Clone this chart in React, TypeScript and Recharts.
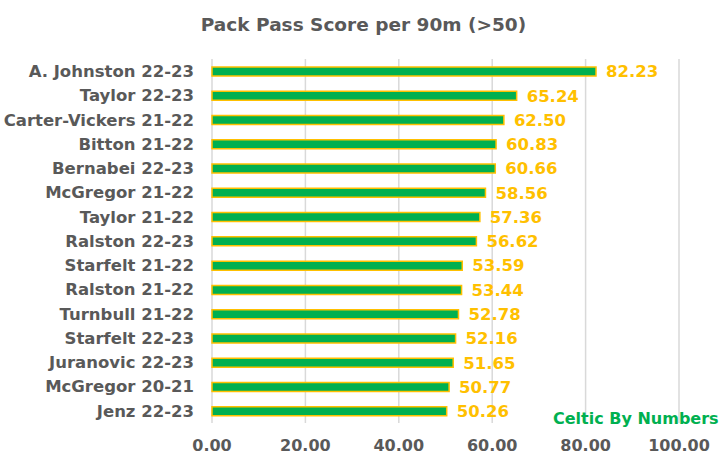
import { BarChart, Bar, XAxis, YAxis, CartesianGrid, LabelList } from 'recharts'

const players = [
  'A. Johnston 22-23', 'Taylor 22-23', 'Carter-Vickers 21-22', 'Bitton 21-22', 'Bernabei 22-23',
  'McGregor 21-22', 'Taylor 21-22', 'Ralston 22-23', 'Starfelt 21-22', 'Ralston 21-22',
  'Turnbull 21-22', 'Starfelt 22-23', 'Juranovic 22-23', 'McGregor 20-21', 'Jenz 22-23',
]
const scores = [82.23, 65.24, 62.5, 60.83, 60.66, 58.56, 57.36, 56.62, 53.59, 53.44, 52.78, 52.16, 51.65, 50.77, 50.26]
const xTicks = [0, 20, 40, 60, 80, 100]

const data = players.map((name, i) => ({ name, score: scores[i] }))

const font = '"DejaVu Sans", sans-serif'
const grey = '#595959'

export default function App() {
  return (
    <div style={{ position: 'fixed', left: 0, top: 0, width: 727, height: 462, background: '#fff', fontFamily: font }}>
      <div style={{ position: 'absolute', top: 14, left: 0, width: 727, textAlign: 'center', fontSize: 18.5, fontWeight: 700, color: grey }}>
        Pack Pass Score per 90m (&gt;50)
      </div>
      <BarChart width={727} height={462} data={data} layout="vertical" margin={{ top: 59, right: 48, left: 0, bottom: 9 }}>
        <CartesianGrid horizontal={false} stroke="#D9D9D9" strokeWidth={1.5} />
        <XAxis
          type="number"
          domain={[0, 100]}
          ticks={xTicks}
          tickFormatter={(v: number) => v.toFixed(2)}
          axisLine={false}
          tickLine={false}
          tickMargin={11}
          height={30}
          tick={{ fill: grey, fontSize: 16, fontWeight: 700, fontFamily: font }}
        />
        <YAxis
          type="category"
          dataKey="name"
          width={212}
          axisLine={false}
          tickLine={false}
          tickMargin={12}
          interval={0}
          tick={{ fill: grey, fontSize: 16.5, fontWeight: 700, fontFamily: font }}
        />
        <Bar dataKey="score" fill="#00B050" stroke="#FFC000" strokeWidth={1.5} barSize={9} isAnimationActive={false}>
          <LabelList
            dataKey="score"
            position="right"
            offset={10}
            formatter={(v: number) => v.toFixed(2)}
            style={{ fill: '#FFC000', fontSize: 16.5, fontWeight: 700, fontFamily: font }}
          />
        </Bar>
      </BarChart>
      <div style={{ position: 'absolute', left: 553, top: 409, fontSize: 16, fontWeight: 700, color: '#00B050' }}>
        Celtic By Numbers
      </div>
    </div>
  )
}
